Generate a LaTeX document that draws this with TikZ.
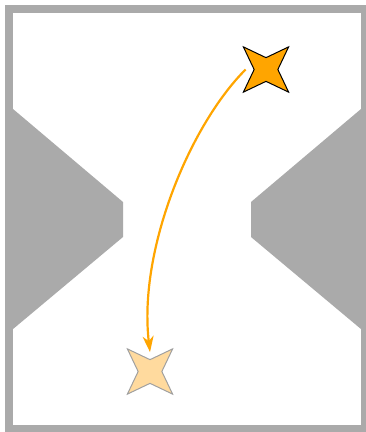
\documentclass[tikz,border=0pt]{standalone}
\usetikzlibrary{shapes.geometric, arrows.meta}

\definecolor{wallgray}{HTML}{AAAAAA}
\definecolor{starorange}{HTML}{FFA500}
\definecolor{starpale}{HTML}{FFDA9E}
\definecolor{starline}{HTML}{A0A0A0}

\tikzset{
  wall/.style={fill=wallgray, draw=none},
  spark/.style={star, star points=4, star point ratio=2.7, shape border rotate=45,
                minimum size=64pt, inner sep=0pt, line width=1pt},
  move/.style={starorange, line width=2.2pt, -{Stealth[length=16pt, width=11pt, inset=5pt]}}
}

\begin{document}
\begin{tikzpicture}[x=1pt, y=-1pt]

\useasboundingbox (0,0) rectangle (366,432);

% --- Pareti laterali ---
\foreach \a/\b in {9/123, 365/251}{
  \fill[wall] (\a,105.6) -- (\b,202) -- (\b,237) -- (\a,332.4) -- cycle;
}

% --- Cornice ---
\draw[wallgray, line width=8pt] (9,9) rectangle (365,429);

% --- Stelle ---
\node[spark, fill=starorange, draw=black] (start) at (266,69.5) {};
\node[spark, fill=starpale, draw=starline] (goal) at (150,371.5) {};

% --- Traiettoria ---
\draw[move] ([xshift=-8pt]start.180) .. controls (190,125) and (138,250) .. ([yshift=7pt]goal.90);

\end{tikzpicture}
\end{document}
